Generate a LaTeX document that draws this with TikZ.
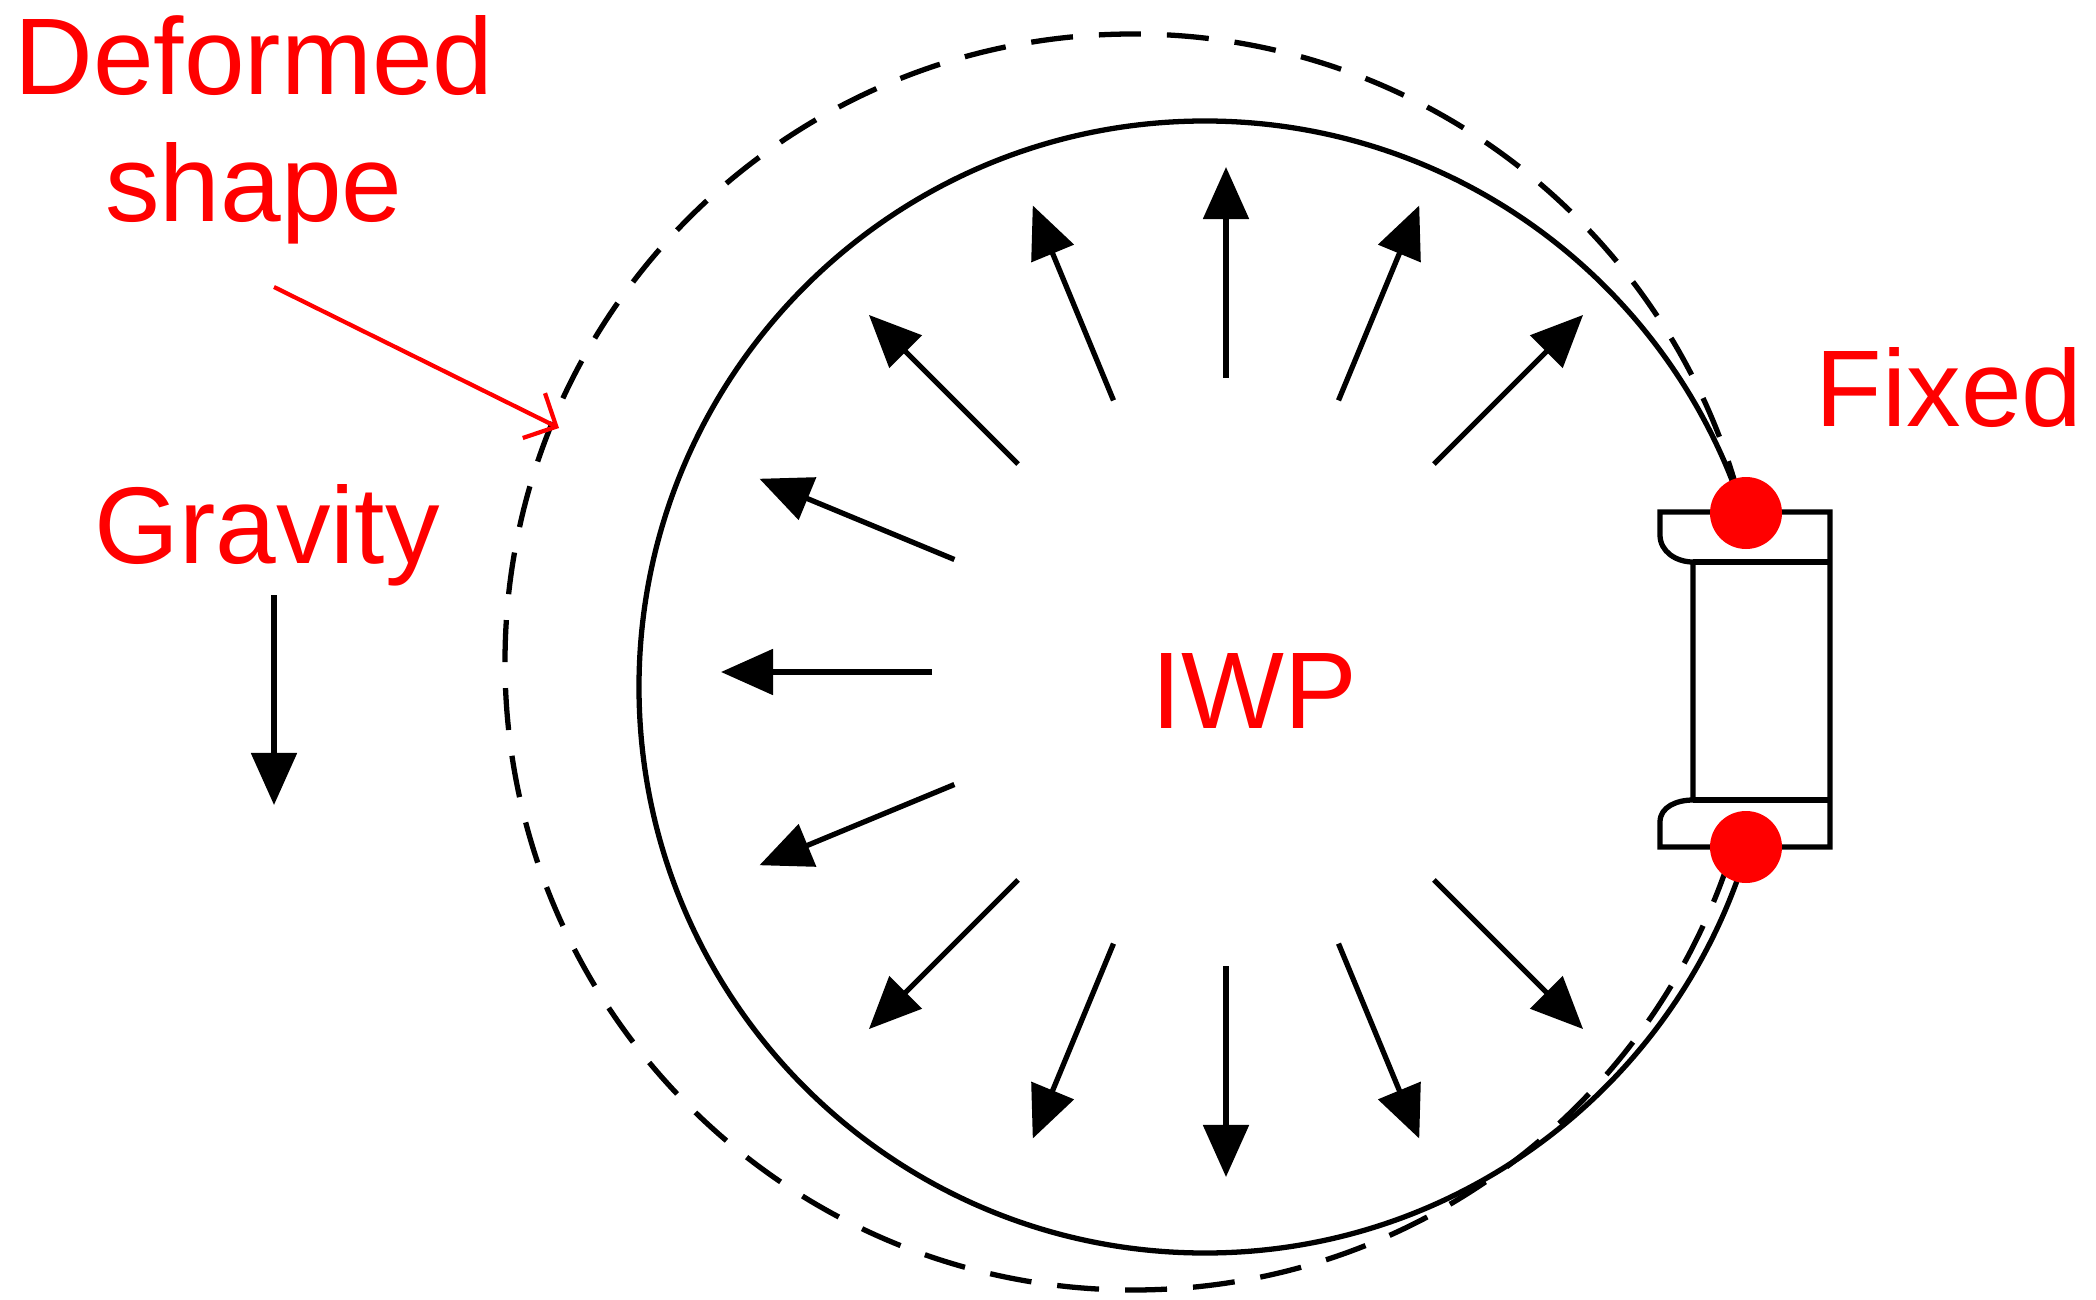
\documentclass[tikz,border=0pt]{standalone}
\usepackage{fontspec}
\setmainfont{Liberation Sans}
\usetikzlibrary{arrows.meta,calc}

\begin{document}
\begin{tikzpicture}[x=0.01cm,y=-0.01cm,
	label/.style={text=red,font=\fontsize{31}{36}\selectfont,inner sep=0pt},
	load/.style={line width=1.5pt,-{Triangle[length=0.52cm,width=0.45cm]}}]
	\def\wallradius{566}
	\def\loadin{294}
	\def\loadout{505}
	\useasboundingbox (0,0) rectangle (2096,1300);

	\coordinate (Wall) at (1205,687);
	\coordinate (Load) at (1226,672);

	% deformed and original shapes
	\draw[line width=1.5pt,dash pattern=on 0.42cm off 0.26cm] (1133,662) circle (628);
	\draw[line width=1.5pt] (Wall) circle (\wallradius);

	% pressure
	\foreach \ang in {45,67.5,...,315}
		\draw[load] ($(Load)+(\ang:\loadin)$) -- ($(Load)+(\ang:\loadout)$);

	% fixture
	\draw[line width=1.5pt,fill=white] (1660,512) -- (1830,512) -- (1830,847) -- (1660,847) -- (1660,822)
		to[out=90,in=180] (1693,800) -- (1693,562) to[out=180,in=-90] (1660,535) -- cycle;
	\draw[line width=1.5pt] (1693,562) -- (1830,562) (1693,800) -- (1830,800);
	\fill[red] (1746,513) circle (36) (1746,847) circle (36);

	% labels
	\node[label,align=center] (Deformed) at (254,130) {Deformed\\shape};
	\coordinate (DeformedTip) at (559,428);
	\draw[red,line width=1.2pt,-{Straight Barb[length=0.25cm]}] (274,287) -- (DeformedTip);
	\node[label] (Gravity) at (267,535) {Gravity};
	\coordinate (GravityTip) at (274,805);
	\draw[load] (274,595) -- (GravityTip);
	\node[label] (Fixed) at (1949,388) {Fixed};
	\node[label] (IWP) at (1254,691) {IWP};
\end{tikzpicture}
\end{document}
